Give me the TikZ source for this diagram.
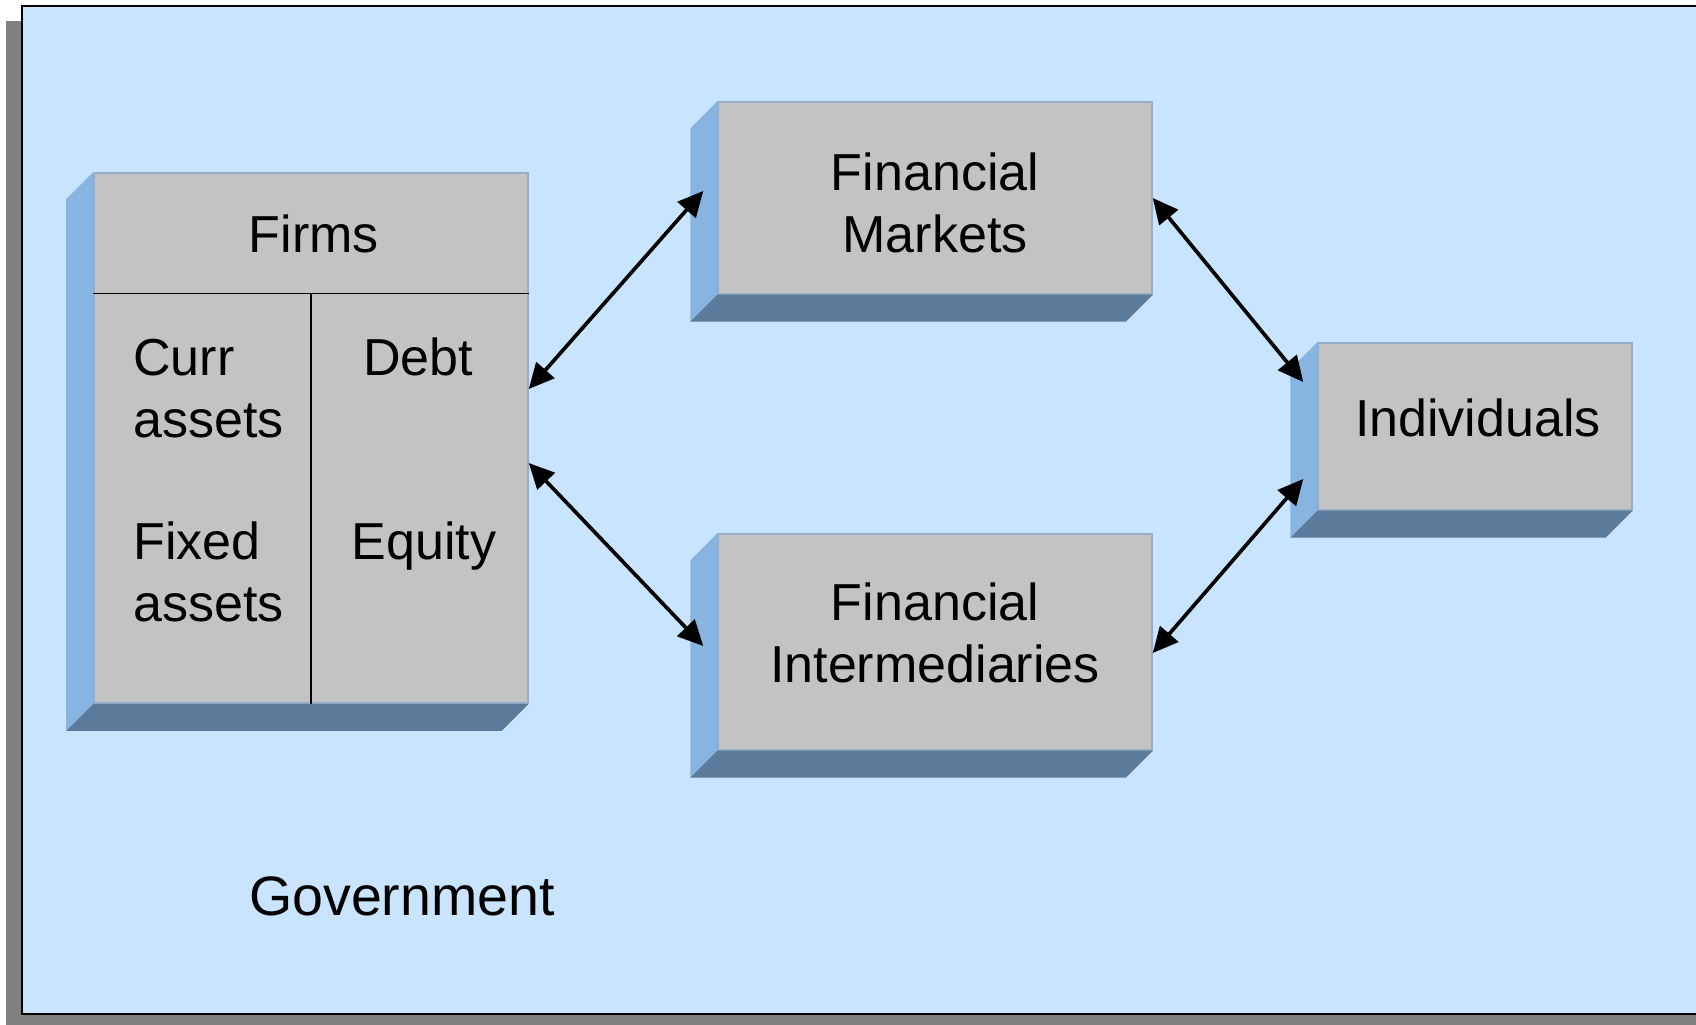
\documentclass[tikz,border=0pt]{standalone}
\usepackage{fontspec}
\setmainfont{Liberation Sans}
\usetikzlibrary{arrows.meta,calc}
\definecolor{bgblue}{RGB}{200,228,254}
\definecolor{facegray}{RGB}{195,195,195}
\definecolor{sideblue}{RGB}{136,180,226}
\definecolor{bottomblue}{RGB}{92,122,154}
\definecolor{rimblue}{RGB}{150,172,200}
\definecolor{shadowgray}{RGB}{128,128,128}
\tikzset{
  block/.style={draw=rimblue, line width=1pt, fill=facegray, inner sep=0pt},
  word/.style={font=\fontsize{37}{44}\selectfont, inner sep=0pt, anchor=base},
  link/.style={line width=2.6pt, {Triangle[length=18pt,width=17pt]}-{Triangle[length=18pt,width=17pt]}}
}
\begin{document}
\begin{tikzpicture}[x=0.025cm, y=-0.025cm]
\useasboundingbox (0,0) rectangle (1696,1025);
% slide background with its shadow
\fill[shadowgray] (6,21) rectangle (1696,1025);
\fill[bgblue] (22,6) rectangle (1696,1014);
\draw[line width=1pt] (1696,6) -- (22,6) -- (22,1014) -- (1696,1014);

% front faces
\node[block, minimum width=10.85cm, minimum height=13.25cm] (firms) at (311,438) {};
\node[block, minimum width=10.85cm, minimum height=4.8cm] (fm) at (935,198) {};
\node[block, minimum width=10.85cm, minimum height=5.4cm] (fi) at (935,642) {};
\node[block, minimum width=7.85cm, minimum height=4.175cm] (ind) at (1475,426.5) {};

% side and bottom faces
\foreach \blk in {firms,fm,fi,ind}{
  \fill[sideblue] (\blk.north west) -- ++(-27,27) -- ($(\blk.south west)+(-27,27)$) -- (\blk.south west) -- cycle;
  \fill[bottomblue] (\blk.south west) -- ++(-27,27) -- ($(\blk.south east)+(-27,27)$) -- (\blk.south east) -- cycle;
}

% balance sheet lines
\draw[line width=1pt] ($(firms.north west)+(0,121)$) -- ($(firms.north east)+(0,121)$);
\draw[line width=1pt] ($(firms.north)+(0,121)$) -- (firms.south);

% texts (base of a two-line node = its last line)
\node[word] (firmsname) at (314,252) {Firms};
\node[word, anchor=base west, align=left] (curr) at (133,437) {Curr\\assets};
\node[word, anchor=base west, align=left] (fixed) at (133,621) {Fixed\\assets};
\node[word] (debt) at (418,375) {Debt};
\node[word] (equity) at (424,559) {Equity};
\node[word, align=center] (fmname) at (935,252) {Financial\\Markets};
\node[word, align=center] (finame) at (935,682) {Financial\\Intermediaries};
\node[word] (indname) at (1478,436) {Individuals};
\node[word, font=\fontsize{39.5}{46}\selectfont] (gov) at (402,915) {Government};

% flows
\draw[link] ($(firms.east)+(0,-49)$) -- ($(fm.west)+(-14,-7)$);
\draw[link] ($(firms.east)+(0,25)$) -- ($(fi.west)+(-14,4)$);
\draw[link] (fm.east) -- ($(ind.west)+(-14,-44.5)$);
\draw[link] ($(ind.west)+(-14,52.5)$) -- ($(fi.east)+(0,11)$);
\end{tikzpicture}
\end{document}
